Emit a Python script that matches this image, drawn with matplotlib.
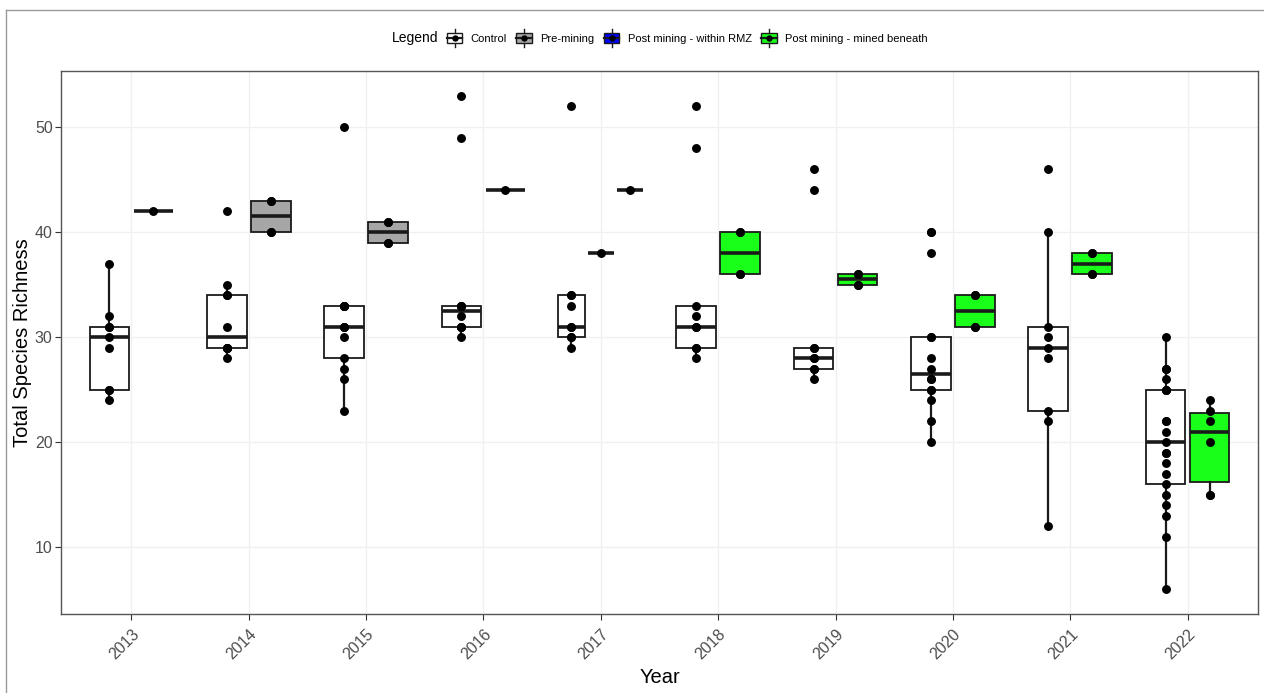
import matplotlib
matplotlib.use("Agg")
import matplotlib.pyplot as plt
import numpy as np
from matplotlib.lines import Line2D
from matplotlib.patches import Patch, Rectangle
from matplotlib.legend_handler import HandlerBase

plt.rcParams['font.family'] = ['Liberation Sans', 'DejaVu Sans']

years = [2013, 2014, 2015, 2016, 2017, 2018, 2019, 2020, 2021, 2022]
groups = ["Control", "Pre-mining", "Post mining - within RMZ", "Post mining - mined beneath"]
fills = ["white", "#A6A6A6", "#0000FF", "#1AFF1A"]

# species richness per site, by year
control = {
    2013: [24, 25, 25, 29, 30, 31, 31, 32, 37],
    2014: [28, 29, 29, 29, 29, 31, 34, 34, 35, 42],
    2015: [23, 26, 27, 28, 30, 31, 31, 31, 33, 33, 33, 33, 50],
    2016: [30, 31, 31, 31, 32, 33, 33, 33, 49, 53],
    2017: [29, 30, 30, 31, 31, 33, 34, 34, 52],
    2018: [28, 29, 29, 31, 31, 32, 33, 48, 52],
    2019: [26, 27, 27, 28, 28, 29, 29, 44, 46],
    2020: [20, 22, 24, 25, 25, 26, 26, 27, 28, 30, 30, 38, 40, 40],
    2021: [12, 22, 23, 28, 29, 30, 31, 40, 46],
    2022: [6, 11, 13, 14, 15, 16, 17, 18, 19, 19, 20, 21, 22, 22, 25, 25, 25, 26, 27, 27, 30],
}
pre_mining = {
    2013: [42],
    2014: [40, 40, 43, 43],
    2015: [39, 39, 41, 41],
    2016: [44],
    2017: [38],
}
post_rmz = {
    2017: [44],
}
post_beneath = {
    2018: [36, 36, 40, 40],
    2019: [35, 35, 36, 36],
    2020: [31, 31, 34, 34],
    2021: [36, 36, 38, 38],
    2022: [15, 15, 20, 22, 23, 24],
}
series = [control, pre_mining, post_rmz, post_beneath]

fig = plt.figure(figsize=(12.64, 6.93), dpi=100)
ax = fig.add_axes([61 / 1264, 1 - 614 / 693, 1197 / 1264, 543 / 693])

ax.set_xlim(-0.6, len(years) - 0.4)
ax.set_ylim(3.65, 55.35)
ax.set_axisbelow(True)
ax.grid(True, color="#F0F0F0", linewidth=1.0)

for i, yr in enumerate(years):
    present = [k for k, s in enumerate(series) if yr in s]
    slot = 0.75 / len(present)
    for j, k in enumerate(present):
        vals = series[k][yr]
        pos = i + (j - (len(present) - 1) / 2) * slot
        ax.boxplot([vals], positions=[pos], widths=slot * 0.9, whis=1.5,
                   showfliers=False, patch_artist=True, manage_ticks=False,
                   boxprops=dict(facecolor=fills[k], edgecolor="#1A1A1A", linewidth=1.3),
                   medianprops=dict(color="#1A1A1A", linewidth=2.6),
                   whiskerprops=dict(color="#1A1A1A", linewidth=1.6),
                   capprops=dict(linewidth=0), zorder=2)
        ax.plot(np.full(len(vals), pos), vals, "o", color="black",
                markersize=5.4, linestyle="none", zorder=3)

ax.set_xticks(range(len(years)))
ax.set_xticklabels([str(y) for y in years], rotation=45, ha="right", va="top",
                   rotation_mode="anchor")
ax.set_yticks([10, 20, 30, 40, 50])
ax.tick_params(axis="both", colors="#333333", labelcolor="#4D4D4D", labelsize=11.5,
               length=4, width=0.8)
ax.tick_params(axis="x", pad=5)
ax.tick_params(axis="y", pad=2)
for sp in ax.spines.values():
    sp.set_color("#555555")
    sp.set_linewidth(1.0)

ax.set_xlabel("Year", fontsize=14.5, labelpad=4)
ax.set_ylabel("Total Species Richness", fontsize=14.5, labelpad=2)


class BoxKey(HandlerBase):
    """Small boxplot glyph for the legend keys."""
    def create_artists(self, legend, orig_handle, xdescent, ydescent,
                       width, height, fontsize, trans):
        x0, y0 = -xdescent, -ydescent
        cx, cy = x0 + width / 2, y0 + height / 2
        fc = orig_handle.get_facecolor()
        whisk = Line2D([cx, cx], [y0, y0 + height],
                       color="#1A1A1A", linewidth=1.0, transform=trans)
        box = Rectangle((x0, y0 + 0.18 * height), width, 0.64 * height,
                        facecolor=fc, edgecolor="#1A1A1A", linewidth=1.0, transform=trans)
        med = Line2D([x0, x0 + width], [cy, cy],
                     color="#1A1A1A", linewidth=1.6, transform=trans)
        dot = Line2D([cx], [cy], marker="o", color="black", markersize=3.6,
                     linestyle="none", transform=trans)
        return [whisk, box, med, dot]


handles = [Patch(facecolor=c) for c in fills]
fig.text(392 / 1264, 1 - 38 / 693, "Legend", fontsize=10, va="center", ha="left")
fig.legend(handles, groups, handler_map={Patch: BoxKey()}, ncol=4,
           loc="center left", bbox_to_anchor=(439 / 1264, 1 - 38 / 693),
           frameon=False, fontsize=8, handlelength=1.4, handleheight=2.0,
           handletextpad=0.75, columnspacing=0.85, borderpad=0.2)

# thin frame along the top and left of the canvas
fig.add_artist(Line2D([6 / 1264, 6 / 1264], [0, 1 - 10 / 693], color="#999999",
                      linewidth=1.0, transform=fig.transFigure))
fig.add_artist(Line2D([6 / 1264, 1], [1 - 10 / 693, 1 - 10 / 693], color="#999999",
                      linewidth=1.0, transform=fig.transFigure))

fig.savefig("out.png", dpi=100, facecolor="white")
